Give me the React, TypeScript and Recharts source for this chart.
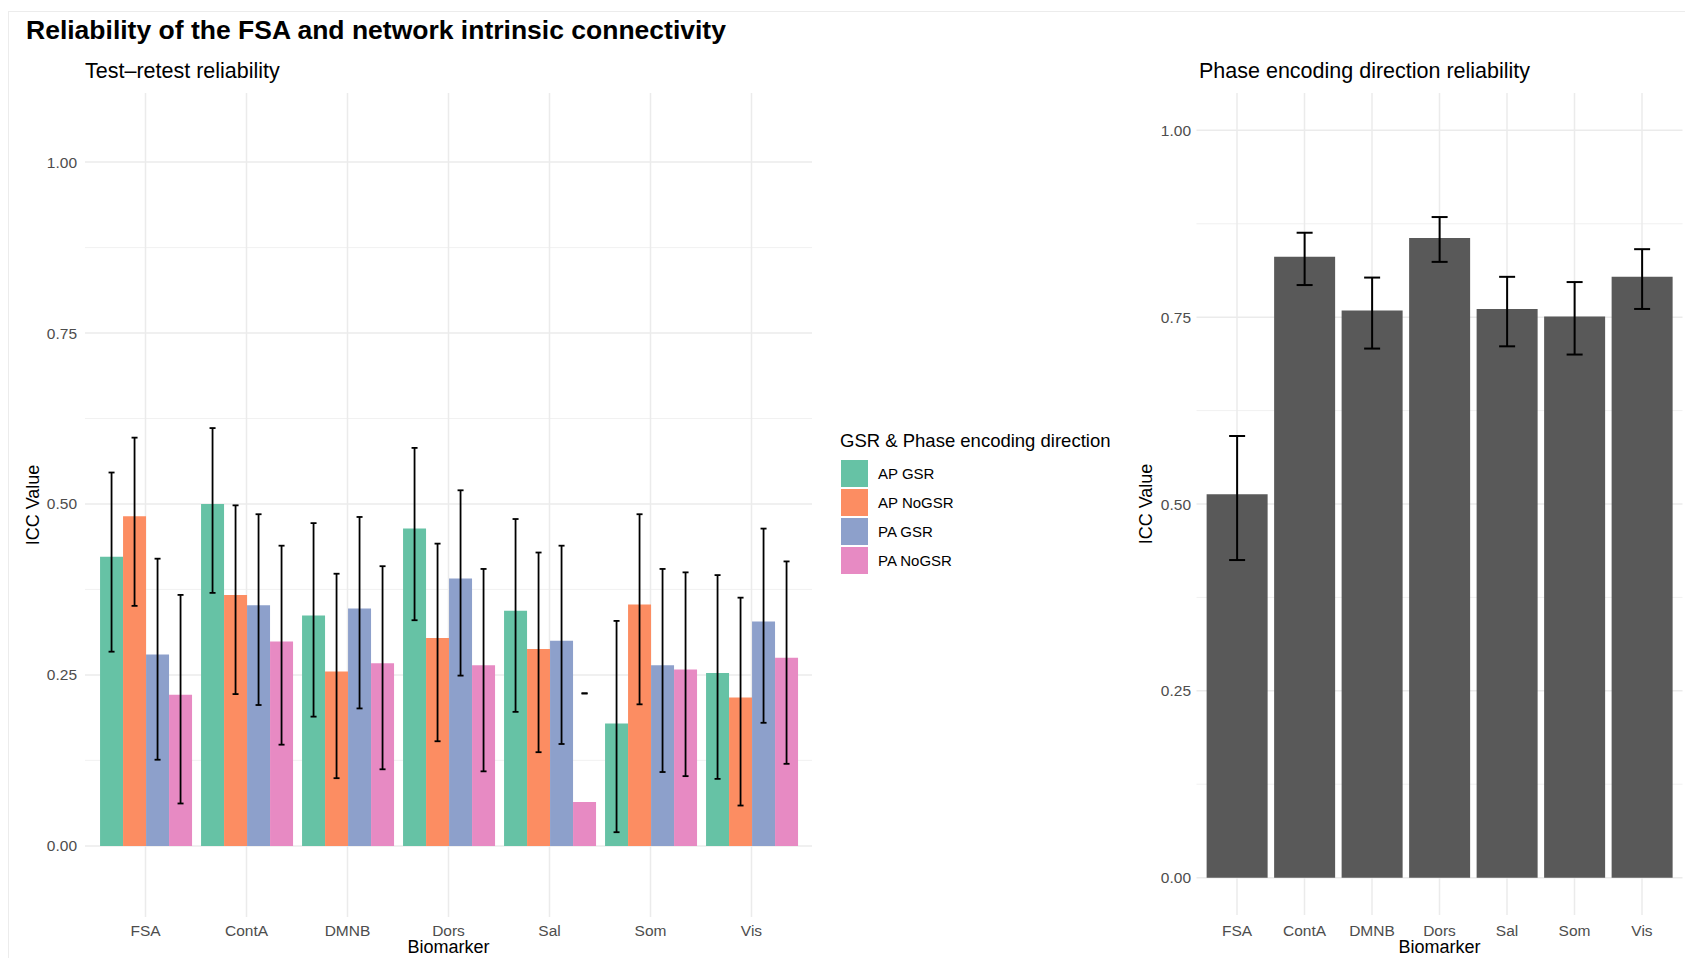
import React from 'react'
import { BarChart, Bar, XAxis, YAxis, CartesianGrid, ErrorBar } from 'recharts'

// categories shared by both panels
const biomarkers = ['FSA', 'ContA', 'DMNB', 'Dors', 'Sal', 'Som', 'Vis']

// test-retest ICC per GSR / phase encoding combination
const seriesNames = ['AP GSR', 'AP NoGSR', 'PA GSR', 'PA NoGSR']
const seriesColors = ['#66c2a5', '#fc8d62', '#8da0cb', '#e78ac3']

const apGsr = [0.423, 0.5, 0.337, 0.464, 0.344, 0.179, 0.253]
const apGsrLow = [0.284, 0.37, 0.189, 0.33, 0.196, 0.02, 0.098]
const apGsrHigh = [0.546, 0.611, 0.472, 0.582, 0.478, 0.329, 0.396]

const apNoGsr = [0.482, 0.367, 0.255, 0.304, 0.288, 0.353, 0.217]
const apNoGsrLow = [0.351, 0.222, 0.099, 0.153, 0.137, 0.207, 0.059]
const apNoGsrHigh = [0.597, 0.498, 0.398, 0.442, 0.429, 0.485, 0.363]

const paGsr = [0.28, 0.352, 0.347, 0.391, 0.3, 0.264, 0.328]
const paGsrLow = [0.126, 0.206, 0.201, 0.249, 0.149, 0.108, 0.18]
const paGsrHigh = [0.42, 0.485, 0.481, 0.52, 0.439, 0.405, 0.464]

const paNoGsr = [0.221, 0.299, 0.267, 0.264, 0.064, 0.258, 0.275]
const paNoGsrLow = [0.062, 0.148, 0.112, 0.109, 0.223, 0.102, 0.12]
const paNoGsrHigh = [0.367, 0.439, 0.409, 0.405, 0.223, 0.4, 0.416]

// phase encoding direction ICC
const phaseIcc = [0.513, 0.831, 0.759, 0.856, 0.761, 0.751, 0.804]
const phaseLow = [0.425, 0.793, 0.708, 0.824, 0.711, 0.7, 0.761]
const phaseHigh = [0.591, 0.863, 0.803, 0.884, 0.804, 0.797, 0.841]

const yTicks = [0, 0.25, 0.5, 0.75, 1]
const yMinor = [0.125, 0.375, 0.625, 0.875]

const seriesValues = [apGsr, apNoGsr, paGsr, paNoGsr]
const seriesLows = [apGsrLow, apNoGsrLow, paGsrLow, paNoGsrLow]
const seriesHighs = [apGsrHigh, apNoGsrHigh, paGsrHigh, paNoGsrHigh]

const testRetestData = biomarkers.map((b, i) => {
  const row: Record<string, any> = { biomarker: b }
  seriesValues.forEach((vals, s) => {
    const v = vals[i]
    row[`s${s}`] = v
    row[`e${s}`] = [v - seriesLows[s][i], seriesHighs[s][i] - v]
  })
  return row
})

const phaseData = biomarkers.map((b, i) => ({
  biomarker: b,
  icc: phaseIcc[i],
  err: [phaseIcc[i] - phaseLow[i], phaseHigh[i] - phaseIcc[i]],
}))

const FONT = '"Liberation Sans", Arial, Helvetica, sans-serif'
const tickStyle = { fontSize: 15.5, fill: '#4d4d4d', fontFamily: FONT }
const fmt = (v: number) => v.toFixed(2)

const abs = (left: number, top: number, extra: React.CSSProperties = {}): React.CSSProperties => ({
  position: 'absolute',
  left,
  top,
  whiteSpace: 'nowrap',
  lineHeight: 1,
  fontFamily: FONT,
  color: '#000',
  ...extra,
})

export default function App() {
  return (
    <div style={{ position: 'absolute', left: 0, top: 0, width: 1685, height: 958, background: '#fff', overflow: 'hidden', fontFamily: FONT }}>
      <div style={{ position: 'absolute', left: 8, top: 11, right: 0, bottom: 0, borderTop: '1px solid #ececec', borderLeft: '1px solid #ececec' }} />

      <div style={abs(26, 30, { fontSize: 26.5, fontWeight: 700, transform: 'translateY(-50%)' })}>
        Reliability of the FSA and network intrinsic connectivity
      </div>
      <div style={abs(85, 72, { fontSize: 21.5, transform: 'translateY(-50%)' })}>Test–retest reliability</div>
      <div style={abs(1199, 72, { fontSize: 21.5, transform: 'translateY(-50%)' })}>Phase encoding direction reliability</div>

      {/* left panel */}
      <div style={{ position: 'absolute', left: 0, top: 0 }}>
        <BarChart
          width={830}
          height={958}
          data={testRetestData}
          margin={{ top: 93, right: 18, bottom: 11, left: 35 }}
          barCategoryGap="5%"
          barGap={0}
        >
          <CartesianGrid horizontalValues={yMinor} vertical={false} stroke="#efefef" strokeWidth={0.9} />
          <CartesianGrid horizontalValues={yTicks} verticalValues={biomarkers} stroke="#ebebeb" strokeWidth={1.5} />
          <XAxis
            dataKey="biomarker"
            padding={{ left: 10, right: 10 }}
            tickLine={false}
            axisLine={false}
            height={30}
            tick={tickStyle}
            interval={0}
          />
          <YAxis
            domain={[-0.104, 1.101]}
            ticks={yTicks}
            allowDataOverflow
            tickFormatter={fmt}
            tickLine={false}
            axisLine={false}
            width={50}
            tick={tickStyle}
          />
          {seriesNames.map((name, s) => (
            <Bar key={name} dataKey={`s${s}`} name={name} fill={seriesColors[s]} isAnimationActive={false}>
              <ErrorBar dataKey={`e${s}`} width={3} stroke="#000" strokeWidth={1.8} />
            </Bar>
          ))}
        </BarChart>
      </div>

      <div style={abs(33, 505, { fontSize: 18, transform: 'translate(-50%, -50%) rotate(-90deg)' })}>ICC Value</div>
      <div style={abs(448.5, 947, { fontSize: 18, transform: 'translate(-50%, -50%)' })}>Biomarker</div>

      {/* legend */}
      <div style={abs(840, 441, { fontSize: 18.5, transform: 'translateY(-50%)' })}>GSR &amp; Phase encoding direction</div>
      {seriesNames.map((name, s) => (
        <div key={name} style={{ position: 'absolute', left: 841, top: 460 + s * 29, height: 27, display: 'flex', alignItems: 'center' }}>
          <div style={{ width: 27, height: 27, background: seriesColors[s] }} />
          <span style={{ marginLeft: 10, fontSize: 15, fontFamily: FONT, color: '#000' }}>{name}</span>
        </div>
      ))}

      {/* right panel */}
      <div style={{ position: 'absolute', left: 1100, top: 0 }}>
        <BarChart
          width={585}
          height={958}
          data={phaseData}
          margin={{ top: 93, right: 2.5, bottom: 13, left: 46.5 }}
          barCategoryGap="5%"
        >
          <CartesianGrid horizontalValues={yMinor} vertical={false} stroke="#efefef" strokeWidth={0.9} />
          <CartesianGrid horizontalValues={yTicks} verticalValues={biomarkers} stroke="#ebebeb" strokeWidth={1.5} />
          <XAxis
            dataKey="biomarker"
            padding={{ left: 6.75, right: 6.75 }}
            tickLine={false}
            axisLine={false}
            height={30}
            tickMargin={4}
            tick={tickStyle}
            interval={0}
          />
          <YAxis
            domain={[-0.05, 1.05]}
            ticks={yTicks}
            allowDataOverflow
            tickFormatter={fmt}
            tickLine={false}
            axisLine={false}
            width={50}
            tickSize={4}
            tickMargin={1.5}
            tick={tickStyle}
          />
          <Bar dataKey="icc" fill="#595959" isAnimationActive={false}>
            <ErrorBar dataKey="err" width={8} stroke="#000" strokeWidth={2} />
          </Bar>
        </BarChart>
      </div>

      <div style={abs(1146, 504, { fontSize: 18, transform: 'translate(-50%, -50%) rotate(-90deg)' })}>ICC Value</div>
      <div style={abs(1439.5, 947, { fontSize: 18, transform: 'translate(-50%, -50%)' })}>Biomarker</div>
    </div>
  )
}
